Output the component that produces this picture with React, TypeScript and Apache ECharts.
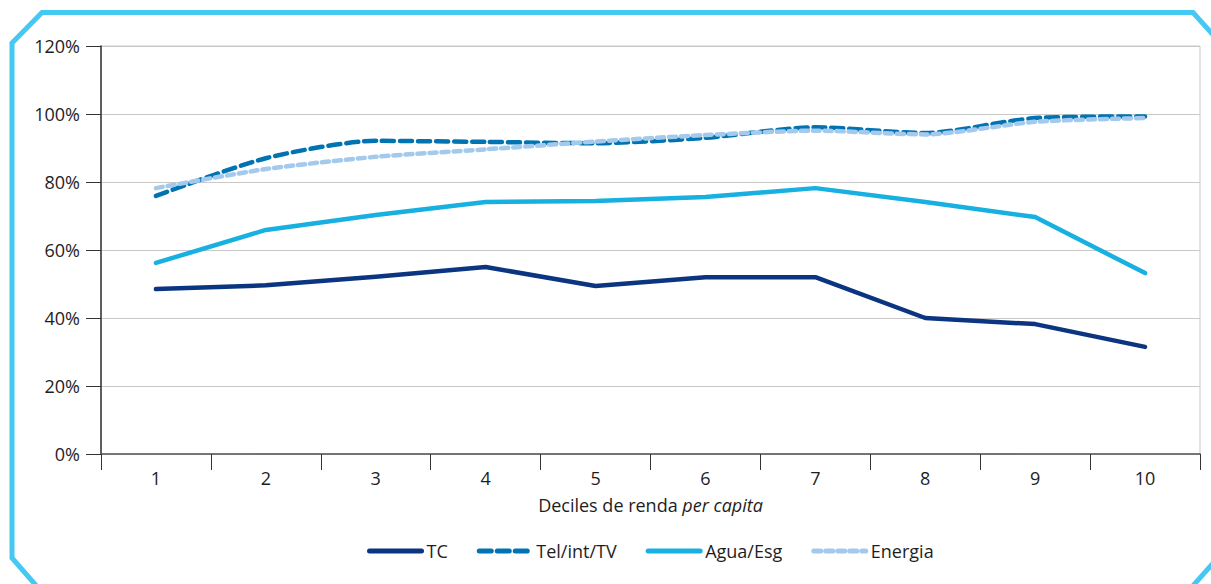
import React, { useEffect, useRef } from "react";
import * as echarts from "echarts";

const categories = ["1", "2", "3", "4", "5", "6", "7", "8", "9", "10"];
const tc = [48.5, 49.6, 52.1, 55.0, 49.4, 52.0, 52.0, 40.0, 38.2, 31.5];
const telIntTv = [75.9, 87.0, 92.1, 91.8, 91.4, 93.0, 96.1, 94.4, 98.8, 99.3];
const aguaEsg = [56.2, 65.9, 70.3, 74.1, 74.4, 75.6, 78.2, 74.1, 69.7, 53.2];
const energia = [78.2, 83.8, 87.4, 89.6, 91.9, 93.8, 95.1, 94.0, 97.7, 98.8];
const seriesNames = ["TC", "Tel/int/TV", "Agua/Esg", "Energia"];
const yTicks = [0, 20, 40, 60, 80, 100, 120];

const FONT = "'Open Sans', 'Noto Sans', sans-serif";
const FRAME = "#45C8F2";
const TXT = "#1e1e1e";
const FS = 18;

export default function App() {
  const ref = useRef<HTMLDivElement>(null);
  useEffect(() => {
    if (!ref.current) return;
    const chart = echarts.init(ref.current, undefined, { renderer: "svg" });
    const mk = (name: string, data: number[], color: string, type: any, smooth: boolean, z: number) => ({
      name,
      type: "line",
      data,
      symbol: "none",
      smooth: smooth ? 0.25 : false,
      z,
      lineStyle: { color, width: 4.5, type, cap: "round", join: "round" },
      itemStyle: { color },
    });
    chart.setOption({
      animation: false,
      backgroundColor: "#ffffff",
      textStyle: { fontFamily: FONT },
      grid: {
        left: 101,
        right: 11,
        top: 46,
        height: 408,
        show: true,
        borderColor: "#c8c8c8",
        borderWidth: 1,
      },
      legend: {
        data: seriesNames,
        top: 537,
        left: 362,
        itemWidth: 52,
        itemHeight: 10,
        itemGap: 29,
        itemStyle: { opacity: 0 },
        lineStyle: { width: 5 },
        textStyle: { fontFamily: FONT, fontSize: FS, color: TXT },
      },
      xAxis: {
        type: "category",
        data: categories,
        boundaryGap: true,
        name: "{a|Deciles de renda }{b|per capita}",
        nameLocation: "middle",
        nameGap: 42,
        nameTextStyle: {
          rich: {
            a: { fontFamily: FONT, fontSize: FS, color: TXT },
            b: { fontFamily: FONT, fontSize: FS, color: TXT, fontStyle: "italic" },
          },
        },
        axisLine: { lineStyle: { color: "#555", width: 1.5 } },
        axisTick: { show: true, length: 16, lineStyle: { color: "#333" }, alignWithLabel: false },
        axisLabel: { fontFamily: FONT, fontSize: FS, color: TXT, margin: 15 },
        splitLine: { show: false },
      },
      yAxis: {
        type: "value",
        min: yTicks[0],
        max: yTicks[yTicks.length - 1],
        interval: 20,
        axisLine: { show: true, lineStyle: { color: "#333", width: 1.5 } },
        axisTick: { show: true, length: 15, lineStyle: { color: "#333" } },
        axisLabel: {
          fontFamily: FONT,
          fontSize: FS,
          color: TXT,
          margin: 21,
          formatter: (v: number) => `${v}%`,
        },
        splitLine: { show: true, lineStyle: { color: "#c8c8c8", width: 1 } },
      },
      series: [
        mk(seriesNames[0], tc, "#0B3580", "solid", false, 4),
        mk(seriesNames[1], telIntTv, "#0073B3", [12, 6], true, 2),
        mk(seriesNames[2], aguaEsg, "#17B0E0", "solid", false, 3),
        mk(seriesNames[3], energia, "#A3C9EC", [7, 5], true, 3),
      ],
      graphic: [
        {
          type: "polyline",
          shape: {
            points: [
              [40, 590],
              [12, 558],
              [12, 43],
              [42, 12.5],
              [1193, 12.5],
              [1216, 38],
            ],
          },
          style: { stroke: FRAME, lineWidth: 5, fill: null },
          silent: true,
        },
        {
          type: "polyline",
          shape: {
            points: [
              [1191, 588],
              [1215, 561],
            ],
          },
          style: { stroke: FRAME, lineWidth: 5, fill: null },
          silent: true,
        },
      ],
    });
    return () => chart.dispose();
  }, []);
  return (
    <div
      ref={ref}
      style={{ position: "fixed", left: 0, top: 0, width: 1211, height: 584, background: "#fff" }}
    />
  );
}
